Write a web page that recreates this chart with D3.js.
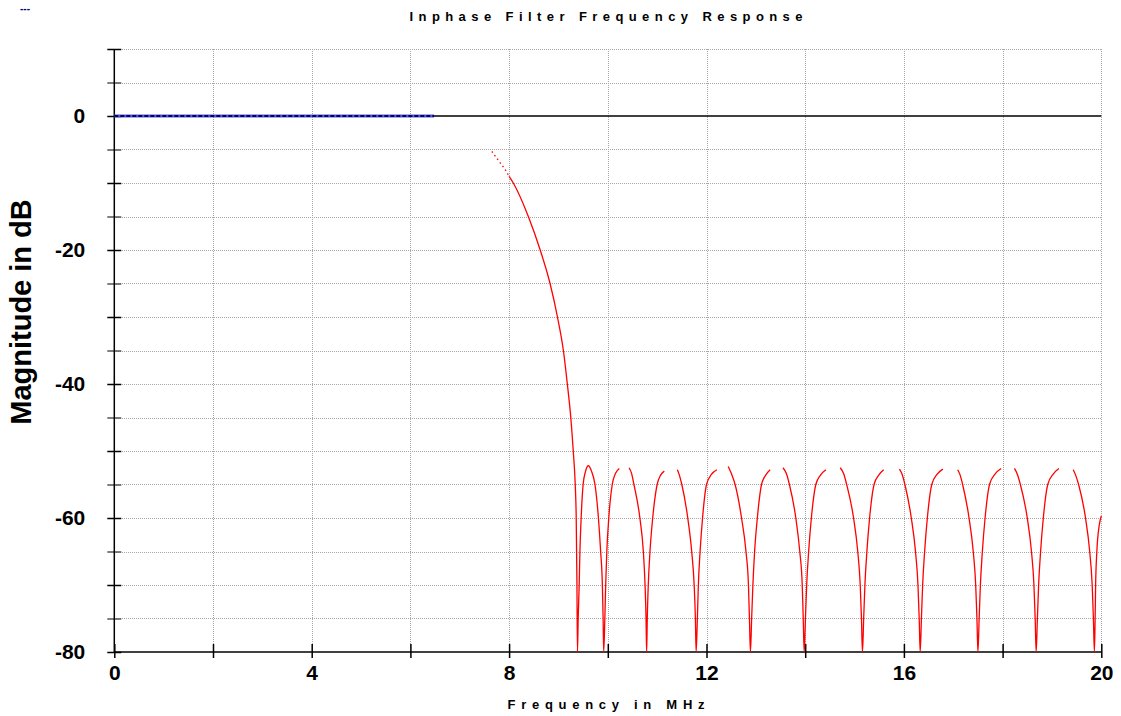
<!DOCTYPE html>
<html>
<head>
<meta charset="utf-8">
<script src="https://cdn.jsdelivr.net/npm/d3@7"></script>
<style>
  body { margin: 0; background: #fff; }
  text { font-family: "Liberation Sans", Arial, sans-serif; font-weight: bold; }
</style>
</head>
<body>
<script>
// axis ticks
const xTicks = [0, 2, 4, 6, 8, 10, 12, 14, 16, 18, 20];
const yMajorTicks = [-80, -70, -60, -50, -40, -30, -20, -10, 0, 10];
const yMinorTicks = [-75, -65, -55, -45, -35, -25, -15, -5, 5];
const yGrid = [-75, -70, -65, -60, -55, -50, -45, -40, -35, -30, -25, -20, -15, -10, -5, 5, 10];

// passband (blue)
const passband = [[0, 0], [6.48, 0]];

// red stopband response, split where the plot leaves gaps
const rolloffDotted = [[7.65, -5.3], [7.8, -6.8], [7.92, -8.0], [8.0, -9.0]];
const redSegments = [
  [[8.0, -9.0], [8.085, -10], [8.39, -15], [8.63, -20], [8.83, -25], [8.98, -30], [9.10, -35], [9.18, -40],
   [9.25, -45], [9.30, -50], [9.34, -55], [9.36, -60], [9.375, -70], [9.385, -80], [9.40, -75], [9.42, -70],
   [9.435, -65], [9.46, -60], [9.50, -55], [9.55, -53], [9.605, -52.2], [9.67, -53], [9.74, -55], [9.81, -60],
   [9.855, -65], [9.89, -70], [9.905, -75], [9.917, -80], [9.94, -75], [9.957, -70], [9.98, -65], [10.02, -60],
   [10.09, -55], [10.16, -53.3], [10.233, -52.6]],
  [[10.43, -52.5], [10.48, -53.3], [10.53, -55], [10.65, -60], [10.72, -65], [10.755, -70], [10.775, -75], [10.787, -80],
   [10.80, -75], [10.82, -70], [10.855, -65], [10.91, -60], [11.0, -55], [11.07, -53.6], [11.145, -53.0]],
  [[11.41, -52.8], [11.45, -53.6], [11.50, -55], [11.62, -60], [11.70, -65], [11.75, -70], [11.775, -75], [11.79, -80],
   [11.815, -75], [11.835, -70], [11.87, -65], [11.92, -60], [12.0, -55], [12.1, -53.5], [12.21, -52.8]],
  [[12.44, -52.3], [12.5, -53.3], [12.58, -55], [12.71, -60], [12.80, -65], [12.85, -70], [12.87, -75], [12.89, -80],
   [12.915, -75], [12.94, -70], [12.975, -65], [13.03, -60], [13.115, -55], [13.2, -53.6], [13.29, -52.8]],
  [[13.55, -52.5], [13.62, -53.4], [13.68, -55], [13.81, -60], [13.89, -65], [13.94, -70], [13.96, -75], [13.98, -80],
   [14.005, -75], [14.03, -70], [14.07, -65], [14.125, -60], [14.215, -55], [14.31, -53.6], [14.42, -52.8]],
  [[14.71, -52.5], [14.78, -53.4], [14.84, -55], [14.98, -60], [15.065, -65], [15.115, -70], [15.14, -75], [15.16, -80],
   [15.185, -75], [15.21, -70], [15.25, -65], [15.305, -60], [15.395, -55], [15.49, -53.6], [15.59, -52.8]],
  [[15.91, -52.7], [15.96, -53.4], [16.02, -55], [16.15, -60], [16.235, -65], [16.285, -70], [16.31, -75], [16.33, -80],
   [16.355, -75], [16.38, -70], [16.42, -65], [16.475, -60], [16.565, -55], [16.67, -53.5], [16.79, -52.7]],
  [[17.09, -52.8], [17.14, -53.6], [17.19, -55], [17.32, -60], [17.405, -65], [17.455, -70], [17.48, -75], [17.50, -80],
   [17.525, -75], [17.55, -70], [17.59, -65], [17.645, -60], [17.735, -55], [17.85, -53.4], [17.97, -52.6]],
  [[18.24, -52.6], [18.30, -53.5], [18.36, -55], [18.50, -60], [18.585, -65], [18.635, -70], [18.66, -75], [18.68, -80],
   [18.705, -75], [18.73, -70], [18.77, -65], [18.825, -60], [18.915, -55], [19.03, -53.4], [19.14, -52.6]],
  [[19.43, -52.8], [19.48, -53.6], [19.54, -55], [19.68, -60], [19.765, -65], [19.815, -70], [19.84, -75], [19.86, -80],
   [19.875, -75], [19.885, -70], [19.91, -65], [19.96, -61], [20.0, -59.7]]
];

const W = 1121, H = 716;
const svg = d3.select("body").append("svg").attr("width", W).attr("height", H);

const x = d3.scaleLinear([0, 20], [114.3, 1101.3]);
const y = d3.scaleLinear([-80, 10], [652, 49]);
const px = v => Math.round(v) + 0.5;

// grid
svg.append("g").selectAll("line").data(xTicks.filter(d => d > 0)).enter().append("line")
  .attr("x1", d => px(x(d))).attr("x2", d => px(x(d))).attr("y1", y(10)).attr("y2", y(-80))
  .attr("stroke", "#a8a8a8").attr("stroke-width", 1).attr("stroke-dasharray", "1,1")
  .attr("shape-rendering", "crispEdges");
svg.append("g").selectAll("line").data(yGrid).enter().append("line")
  .attr("x1", x(0)).attr("x2", x(20)).attr("y1", d => px(y(d))).attr("y2", d => px(y(d)))
  .attr("stroke", "#a8a8a8").attr("stroke-width", 1).attr("stroke-dasharray", "1,1")
  .attr("shape-rendering", "crispEdges");

// zero line
svg.append("line").attr("x1", x(0)).attr("x2", x(20)).attr("y1", y(0)).attr("y2", y(0))
  .attr("stroke", "#000").attr("stroke-width", 1.5);

// axes
const yAxisMajor = svg.append("g").attr("transform", `translate(${x(0) + 7},0)`)
  .call(d3.axisLeft(y).tickValues(yMajorTicks).tickSize(14).tickPadding(22)
    .tickFormat(d => d % 20 === 0 ? d : ""));
yAxisMajor.select(".domain").remove();
yAxisMajor.selectAll("line").attr("stroke", "#000").attr("stroke-width", 1.5);
yAxisMajor.selectAll("text").attr("font-size", 21).attr("font-family", null).attr("fill", "#000");

const yAxisMinor = svg.append("g").attr("transform", `translate(${x(0) + 7},0)`)
  .call(d3.axisLeft(y).tickValues(yMinorTicks).tickSize(14).tickFormat(""));
yAxisMinor.select(".domain").remove();
yAxisMinor.selectAll("line").attr("stroke", "#555").attr("stroke-width", 1.5);

const xAxis = svg.append("g").attr("transform", `translate(0,${y(-80) - 8})`)
  .call(d3.axisBottom(x).tickValues(xTicks).tickSize(14).tickPadding(7)
    .tickFormat(d => d % 4 === 0 ? d : ""));
xAxis.select(".domain").remove();
xAxis.selectAll("line").attr("stroke", "#000").attr("stroke-width", 1.5);
xAxis.selectAll("text").attr("font-size", 21).attr("font-family", null).attr("fill", "#000");

svg.append("line").attr("x1", x(0)).attr("x2", x(0)).attr("y1", y(10)).attr("y2", y(-80))
  .attr("stroke", "#000").attr("stroke-width", 1.5);
svg.append("line").attr("x1", x(0)).attr("x2", x(20)).attr("y1", y(-80)).attr("y2", y(-80))
  .attr("stroke", "#000").attr("stroke-width", 1.5);

// curves
const line = d3.line().x(d => x(d[0])).y(d => y(d[1])).curve(d3.curveMonotoneX);

svg.append("path").datum(passband).attr("d", line)
  .attr("fill", "none").attr("stroke", "#5858c8").attr("stroke-width", 3);
svg.append("path").datum(passband).attr("d", line)
  .attr("fill", "none").attr("stroke", "#00007a").attr("stroke-width", 2).attr("stroke-dasharray", "4,2");

svg.append("path").datum(rolloffDotted).attr("d", line)
  .attr("fill", "none").attr("stroke", "red").attr("stroke-width", 1.3).attr("stroke-dasharray", "1.5,3");
svg.append("g").selectAll("path").data(redSegments).enter().append("path")
  .attr("d", d => line(d))
  .attr("fill", "none").attr("stroke", "red").attr("stroke-width", 1.3);

// texts
svg.append("text").attr("x", 20).attr("y", 12).attr("font-size", 10).attr("fill", "#00007a").text("---");

svg.append("text").attr("x", 606).attr("y", 21).attr("text-anchor", "middle")
  .attr("font-size", 13).attr("textLength", 393).attr("lengthAdjust", "spacing")
  .text("Inphase Filter Frequency Response");

svg.append("text").attr("x", 606).attr("y", 709).attr("text-anchor", "middle")
  .attr("font-size", 13).attr("textLength", 197).attr("lengthAdjust", "spacing")
  .text("Frequency in MHz");

svg.append("text").attr("transform", "translate(31,312) rotate(-90)").attr("text-anchor", "middle")
  .attr("font-size", 29)
  .text("Magnitude in dB");
</script>
</body>
</html>
